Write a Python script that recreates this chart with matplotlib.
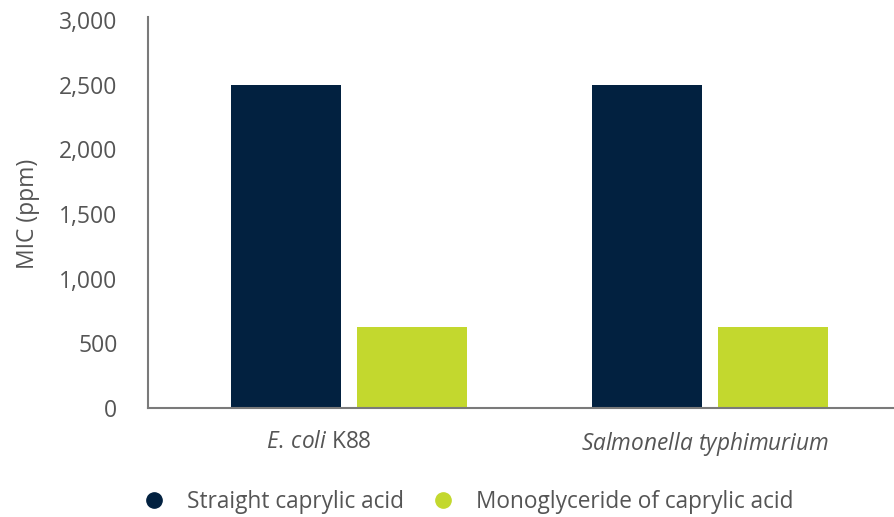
import numpy as np
import matplotlib.pyplot as plt
from matplotlib.lines import Line2D

plt.rcParams['font.family'] = ['Open Sans', 'DejaVu Sans']
plt.rcParams['mathtext.fontset'] = 'custom'
plt.rcParams['mathtext.rm'] = 'Open Sans'
plt.rcParams['mathtext.it'] = 'Open Sans:italic'

# data
categories = [r'$\mathit{E.\,coli}$ K88', r'$\mathit{Salmonella\ typhimurium}$']
series_names = ['Straight caprylic acid', 'Monoglyceride of caprylic acid']
straight = [2500, 2500]
monoglyceride = [625, 625]
yticks = [0, 500, 1000, 1500, 2000, 2500, 3000]

navy = '#022140'
lime = '#c3d82e'
text_col = '#555555'
axis_col = '#7a7a7a'

fig = plt.figure(figsize=(8.94, 5.17), dpi=100)
ax = fig.add_axes([148 / 894, 1 - 408 / 517, (894 - 148) / 894, 388 / 517])

x = np.arange(len(categories))
w = 0.305
ax.bar(x - 0.1745, straight, width=w, color=navy)
ax.bar(x + 0.1745, monoglyceride, width=w, color=lime)

ax.set_xlim(-0.557, 1.51)
ax.set_ylim(0, 3000)
ax.set_yticks(yticks)
ax.set_yticklabels([f'{v:,}' for v in yticks])
ax.set_xticks(x + np.array([-0.083, -0.013]))
ax.set_xticklabels(categories)
ax.tick_params(axis='y', length=0, pad=22, labelsize=16.5, labelcolor=text_col)
ax.tick_params(axis='x', length=0, pad=16, labelsize=16.3, labelcolor=text_col)
ax.set_ylabel('MIC (ppm)', fontsize=16.5, color=text_col, labelpad=14)

for s in ['top', 'right']:
    ax.spines[s].set_visible(False)
for s in ['left', 'bottom']:
    ax.spines[s].set_color(axis_col)
    ax.spines[s].set_linewidth(1.5)
ax.spines['left'].set_bounds(0, 3020)
ax.spines['left'].set_clip_on(False)

handles = [Line2D([], [], marker='o', linestyle='none', markersize=11,
                  markerfacecolor=c, markeredgecolor=c) for c in (navy, lime)]
fig.legend(handles, series_names, loc='center', bbox_to_anchor=(468 / 894, 1 - 502 / 517),
           ncol=2, frameon=False, fontsize=16.3, labelcolor=text_col,
           handlelength=1.0, handletextpad=0.95, columnspacing=1.25)

fig.savefig('out.png', dpi=100)
